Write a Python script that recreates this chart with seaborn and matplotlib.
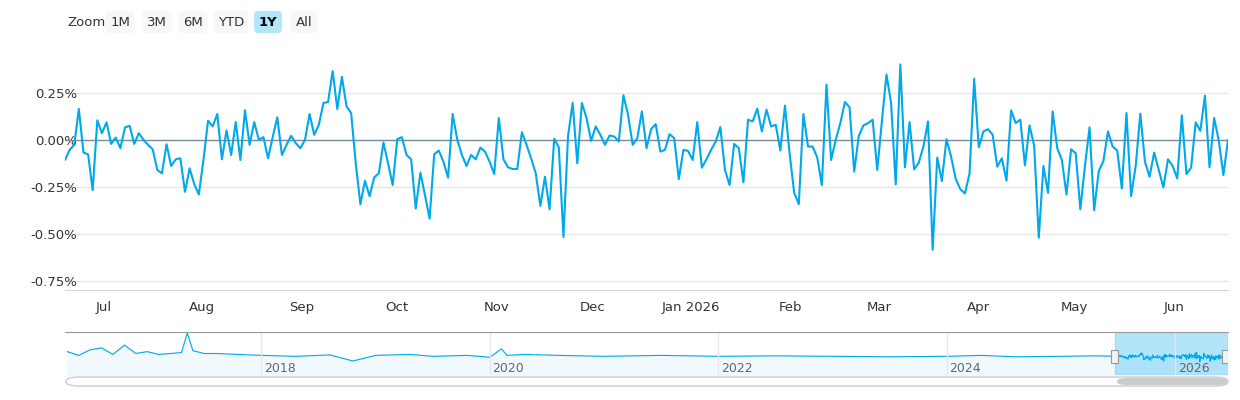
import numpy as np
import pandas as pd
import matplotlib.pyplot as plt
import matplotlib.dates as mdates
from matplotlib.patches import FancyBboxPatch, Rectangle
import seaborn as sns

sns.set_style("white")
plt.rcParams['font.family'] = ['DejaVu Sans']

# pixel heights (0 line = 240, 0.25% = 100)
pix = [300, 270, 255, 148, 278, 283, 390, 182, 220, 188, 252, 233, 265, 203, 198, 252, 220, 240, 255, 268,
       330, 340, 253, 318, 298, 295, 395, 325, 372, 403, 300, 183, 200, 163, 298, 212, 285, 187, 300, 152,
       255, 187, 240, 232, 295, 232, 173, 285, 255, 228, 250, 265, 240, 163, 225, 195, 130, 127, 35, 148,
       52, 140, 160, 310, 432, 362, 408, 352, 340, 248, 310, 375, 238, 232, 285, 298, 445, 338, 405, 475,
       283, 272, 305, 353, 163,
       240, 285, 318, 285, 298, 263, 275, 305, 342, 175, 298, 322, 327, 327, 217, 255, 295, 340, 437, 350,
       447, 237, 262, 530, 228, 130, 310, 130, 175, 243, 200, 225, 255, 227, 230, 245, 107, 165, 255, 235,
       155, 265, 208, 193, 275, 270, 223, 235, 357, 270, 273, 300, 187, 323, 298, 270, 245, 202, 330, 375,
       252, 265, 367, 180, 185, 147, 215, 150, 200, 195, 272, 138, 280, 398, 432, 163, 260, 260, 293, 375, 75,
       300, 240, 190, 127, 143, 335, 228, 197, 190, 180, 330, 185, 45, 130, 373, 15, 322, 187, 328, 308,
       260, 185, 568, 293, 363, 238, 290, 357, 387, 400, 340, 58, 262, 215, 208, 225, 320, 295, 362, 152,
       190, 180, 316, 197, 258, 532, 318, 398, 155, 265, 300, 403, 268, 280, 447, 318, 203, 450, 333, 303,
       215, 260, 272, 385, 160, 408, 318, 162, 305, 350, 278, 330, 382, 298, 318, 355, 167, 342, 323, 188,
       213, 108, 322, 175, 242, 345, 240]
vals = [(240 - p) / 140 * 0.25 for p in pix]
datas = pd.date_range("2025-06-19", "2026-06-18", periods=len(vals))
df = pd.DataFrame({"data": datas, "valor": vals})

# historico grosseiro para o navegador (2016 - 2026)
hist_anos = [2016.3, 2016.4, 2016.5, 2016.6, 2016.7, 2016.8, 2016.9, 2017.0, 2017.1, 2017.2, 2017.3, 2017.35,
             2017.4, 2017.5, 2017.6, 2017.8, 2018.0, 2018.3, 2018.6, 2018.8, 2019.0, 2019.3, 2019.5, 2019.8,
             2020.0, 2020.1, 2020.15, 2020.3, 2020.6, 2021.0, 2021.5, 2022.0, 2022.5, 2023.0, 2023.5, 2024.0,
             2024.3, 2024.6, 2025.0, 2025.3, 2025.5]
hist_vals = [0.5, 0.1, 0.7, 0.9, 0.2, 1.2, 0.3, 0.5, 0.2, 0.3, 0.4, 2.5, 0.6, 0.3, 0.3, 0.2, 0.1, 0.0, 0.15,
             -0.5, 0.1, 0.2, 0.0, 0.1, -0.1, 0.8, 0.1, 0.2, 0.1, 0.0, 0.1, 0.0, 0.05, 0.0, -0.05, 0.0,
             0.1, -0.05, 0.0, 0.05, 0.0]

fig = plt.figure(figsize=(12.4, 4), dpi=100)
W, H = 1240, 400
azul = "#00a8ec"

ax = fig.add_axes([65 / W, 1 - 290 / H, (1228 - 65) / W, (290 - 46) / H])
sns.lineplot(data=df, x="data", y="valor", color=azul, linewidth=1.5, ax=ax)
ax.set_ylim(-0.8, 0.5)
ax.set_xlim(datas[0], datas[-1])
for v in [0.25, -0.25, -0.5, -0.75]:
    ax.axhline(v, color="#e6e6e6", linewidth=1, zorder=0)
ax.axhline(0, color="#7a8a9c", linewidth=1, zorder=1)
ax.set_yticks([0.25, 0.0, -0.25, -0.5, -0.75])
ax.set_yticklabels(["0.25%", "0.00%", "-0.25%", "-0.50%", "-0.75%"], color="#333333", fontsize=9.5)
ax.tick_params(axis="y", length=0, pad=-9)
meses = pd.date_range("2025-07-01", "2026-06-01", freq="MS")
ax.set_xticks(meses)
ax.set_xticklabels([("Jan 2026" if m.month == 1 else m.strftime("%b")) for m in meses], color="#333333", fontsize=9.5)
ax.tick_params(axis="x", length=0, pad=8)
for s in ["top", "left", "right"]:
    ax.spines[s].set_visible(False)
ax.spines["bottom"].set_color("#ccd6eb")
ax.set_xlabel("")
ax.set_ylabel("")

# navegador
nav = fig.add_axes([65 / W, 1 - 375 / H, (1228 - 65) / W, (375 - 332) / H])
ano_frac = [2025.47 + i / len(vals) for i in range(len(vals))]
xs = hist_anos + ano_frac
ys = hist_vals + vals
nav.plot(xs, ys, color=azul, linewidth=0.8)
nav.fill_between(xs, ys, -2, color="#eaf6fd", alpha=0.6)
nav.set_xlim(2016.28, 2026.46)
nav.set_ylim(-2, 2.6)
for a in [2018, 2020, 2022, 2024, 2026]:
    nav.axvline(a, color="#e6e6e6", linewidth=1)
    nav.text(a + 0.02, -1.95, str(a), fontsize=9, color="#666666", va="bottom")
nav.axvspan(2025.47, 2026.46, color="#7fd3f5", alpha=0.6)
for xh in [2025.47, 2026.44]:
    nav.add_patch(Rectangle((xh - 0.03, -0.7), 0.06, 1.4, facecolor="#f2f2f2", edgecolor="#999999", lw=0.8, zorder=5))
nav.set_xticks([])
nav.set_yticks([])
for s in ["left", "right", "bottom"]:
    nav.spines[s].set_visible(False)
nav.spines["top"].set_color("#999999")

# barra de rolagem
fig.patches.append(FancyBboxPatch((66 / W, 1 - 386 / H), 1162 / W, 9 / H, boxstyle="round,pad=0,rounding_size=0.011",
                                  transform=fig.transFigure, facecolor="white", edgecolor="#cccccc", lw=1))
fig.patches.append(FancyBboxPatch((1117 / W, 1 - 385 / H), 110 / W, 7 / H, boxstyle="round,pad=0,rounding_size=0.008",
                                  transform=fig.transFigure, facecolor="#cccccc", edgecolor="none"))

# botoes de zoom
fig.text(67 / W, 1 - 22 / H, "Zoom", fontsize=9.5, color="#333333", va="center")
botoes = [("1M", 120), ("3M", 157), ("6M", 193), ("YTD", 231), ("1Y", 268), ("All", 304)]
for nome, cx in botoes:
    sel = nome == "1Y"
    fig.text(cx / W, 1 - 22 / H, nome, fontsize=9.5, ha="center", va="center",
             color="#000000" if sel else "#333333", fontweight="bold" if sel else "normal",
             bbox=dict(boxstyle="round,pad=0.35", fc="#b3e5fb" if sel else "#f7f7f7", ec="none"))

plt.savefig("out.png", dpi=100)
